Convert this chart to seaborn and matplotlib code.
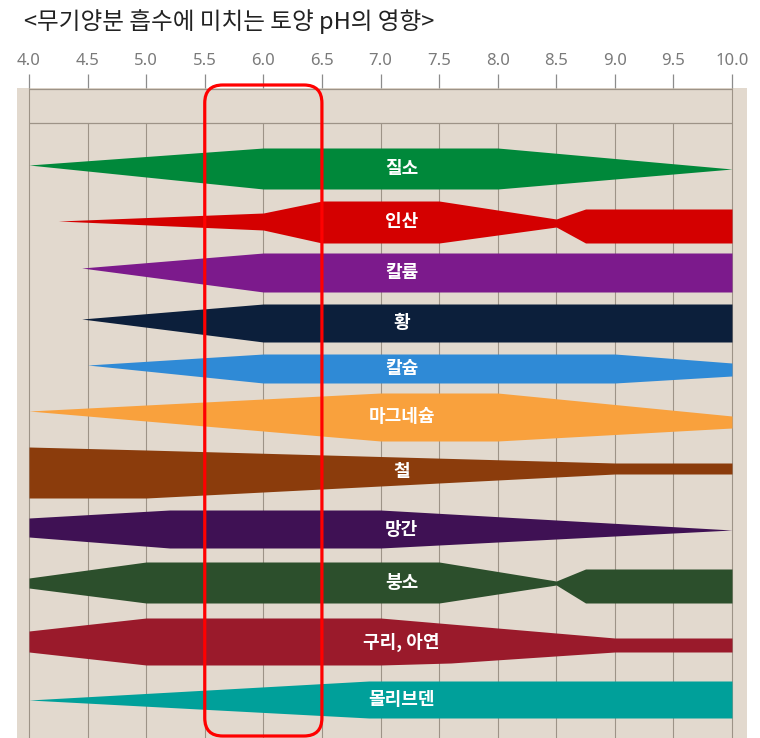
import numpy as np
import matplotlib
matplotlib.use("Agg")
import matplotlib.pyplot as plt
from matplotlib.patches import FancyBboxPatch
from matplotlib.transforms import IdentityTransform
import seaborn as sns

title = "<무기양분 흡수에 미치는 토양 pH의 영향>"
ph_ticks = [4.0, 4.5, 5.0, 5.5, 6.0, 6.5, 7.0, 7.5, 8.0, 8.5, 9.0, 9.5, 10.0]
highlight_ph = (5.5, 6.5)

# band outlines: pH breakpoints, upper edge, lower edge
# (vertical scale: 0 = top of the frame, 650 = bottom)
nitrogen_ph = [4.0, 6.0, 8.0, 10.0]
nitrogen_top = [77, 60, 60, 81]
nitrogen_bot = [77, 101, 101, 81]

phosphate_ph = [4.25, 6.0, 6.5, 7.5, 8.5, 8.75, 10.0]
phosphate_top = [133, 125, 113, 113, 131, 121, 121]
phosphate_bot = [133, 142, 155, 155, 139, 155, 155]

potassium_ph = [4.45, 6.0, 10.0]
potassium_top = [180, 165, 165]
potassium_bot = [180, 204, 204]

sulfur_ph = [4.45, 6.0, 10.0]
sulfur_top = [231, 216, 216]
sulfur_bot = [231, 254, 254]

calcium_ph = [4.5, 6.0, 9.0, 10.0]
calcium_top = [277, 266, 266, 275]
calcium_bot = [277, 295, 295, 288]

magnesium_ph = [4.0, 7.0, 8.0, 10.0]
magnesium_top = [323, 305, 305, 328]
magnesium_bot = [323, 353, 353, 340]

iron_ph = [4.0, 5.0, 9.0, 10.0]
iron_top = [359, 362, 375, 375]
iron_bot = [410, 410, 386, 386]

manganese_ph = [4.0, 5.2, 7.0, 10.0]
manganese_top = [430, 422, 422, 442]
manganese_bot = [449, 460, 460, 442]

boron_ph = [4.0, 5.0, 7.5, 8.5, 8.75, 10.0]
boron_top = [490, 474, 474, 493, 481, 481]
boron_bot = [500, 515, 515, 497, 515, 515]

copper_ph = [4.0, 5.0, 7.0, 7.6, 9.0, 10.0]
copper_top = [543, 530, 530, 536, 550, 550]
copper_bot = [564, 577, 577, 575, 564, 564]

molybdenum_ph = [4.0, 6.9, 10.0]
molybdenum_top = [612, 593, 593]
molybdenum_bot = [612, 630, 630]

nutrients = ["질소", "인산", "칼륨", "황", "칼슘", "마그네슘", "철", "망간", "붕소", "구리, 아연", "몰리브덴"]
colors = ["#00883a", "#d40000", "#7c1a8c", "#0c1f3b", "#2f8ad6", "#f9a13d",
          "#8b3c0c", "#3f1154", "#2c4f2c", "#9a1a2b", "#00a09a"]
label_ph = 7.18

bands = [
    (nitrogen_ph, nitrogen_top, nitrogen_bot),
    (phosphate_ph, phosphate_top, phosphate_bot),
    (potassium_ph, potassium_top, potassium_bot),
    (sulfur_ph, sulfur_top, sulfur_bot),
    (calcium_ph, calcium_top, calcium_bot),
    (magnesium_ph, magnesium_top, magnesium_bot),
    (iron_ph, iron_top, iron_bot),
    (manganese_ph, manganese_top, manganese_bot),
    (boron_ph, boron_top, boron_bot),
    (copper_ph, copper_top, copper_bot),
    (molybdenum_ph, molybdenum_top, molybdenum_bot),
]

sns.set_theme(style="white")
plt.rcParams["font.family"] = ["Noto Sans CJK KR", "DejaVu Sans"]

W, H = 760, 738
fig = plt.figure(figsize=(W / 100, H / 100), dpi=100)
# frame spans pixels x 17..747, y 88..738
ax = fig.add_axes([17 / W, 0, (747 - 17) / W, (738 - 88) / H])
px_per_ph = (732 - 29) / 6.0
ax.set_xlim(4.0 - 12 / px_per_ph, 10.0 + 15 / px_per_ph)
ax.set_ylim(650, 0)
ax.set_facecolor("#e2d9ce")
for s in ax.spines.values():
    s.set_visible(False)

grid_c = "#9d9387"
ax.vlines(ph_ticks[1:-1], 35, 650, color=grid_c, lw=0.8, zorder=1)
ax.vlines([ph_ticks[0], ph_ticks[-1]], 0, 650, color=grid_c, lw=0.8, zorder=1)
ax.hlines([0.5, 35], ph_ticks[0], ph_ticks[-1], color=grid_c, lw=0.9, zorder=1)

for name, col, (ph, top, bot) in zip(nutrients, colors, bands):
    ax.fill_between(ph, top, bot, color=col, lw=0, zorder=2)
    yc = (np.interp(label_ph, ph, top) + np.interp(label_ph, ph, bot)) / 2
    ax.text(label_ph, yc, name, color="white", fontsize=13, fontweight="bold",
            ha="center", va="center", zorder=3)

ax.set_xticks(ph_ticks)
ax.set_xticklabels([f"{v:.1f}" for v in ph_ticks], family="Noto Sans", fontsize=12)
ax.set_yticks([])
ax.tick_params(axis="x", top=True, labeltop=True, bottom=False, labelbottom=False,
               length=10, width=0.9, color="#8c8c8c", labelcolor="#7a7a7a", pad=4)

# highlighted pH range (rounded red frame)
fig.canvas.draw()
x0 = ax.transData.transform((highlight_ph[0], 0))[0]
x1 = ax.transData.transform((highlight_ph[1], 0))[0]
y_top = ax.transData.transform((0, -3))[1]
y_bot = ax.transData.transform((0, 648))[1]
frame = FancyBboxPatch((x0, y_bot), x1 - x0, y_top - y_bot,
                       boxstyle="round,pad=0,rounding_size=18",
                       transform=IdentityTransform(), fill=False,
                       ec="#ff0000", lw=2.3, clip_on=False, zorder=5)
ax.add_patch(frame)

fig.text(24 / W, 1 - 22 / H, title, fontsize=17, color="#222222", ha="left", va="center")

fig.savefig("out.png", dpi=100)
